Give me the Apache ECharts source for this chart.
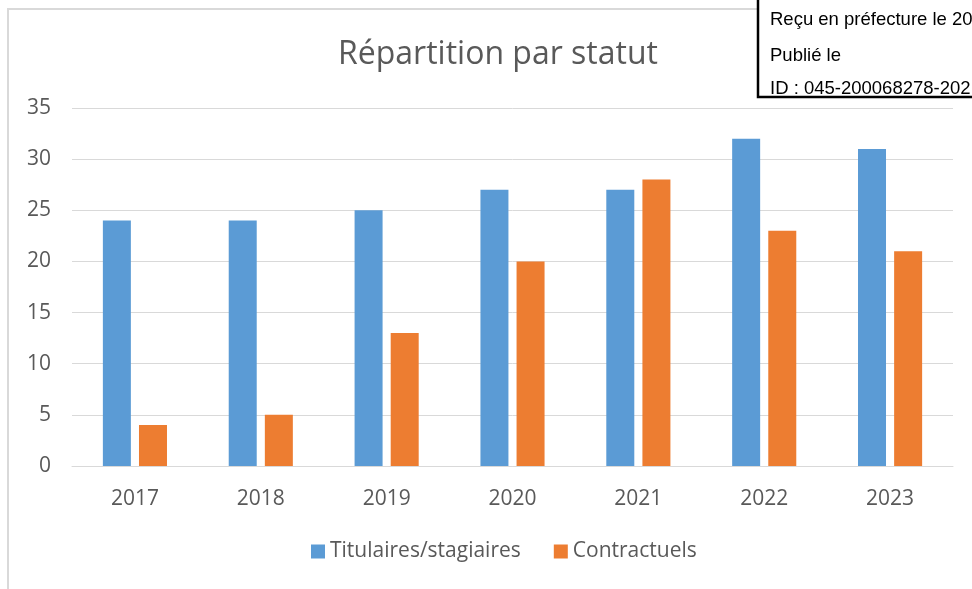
<!DOCTYPE html>
<html>
<head>
<meta charset="utf-8">
<script src="https://cdn.jsdelivr.net/npm/echarts@6/dist/echarts.min.js"></script>
<style>
  html, body { margin: 0; padding: 0; background: #fff; }
  #chart { width: 972px; height: 589px; }
</style>
</head>
<body>
<div id="chart"></div>
<script>
// données
const years = ["2017", "2018", "2019", "2020", "2021", "2022", "2023"];
const titulaires = [24, 24, 25, 27, 27, 32, 31];
const contractuels = [4, 5, 13, 20, 28, 23, 21];
const stampLines = ["Reçu en préfecture le 20", "Publié le", "ID : 045-200068278-202"];
const stampY = [20, 56, 89];

const chart = echarts.init(document.getElementById("chart"));
const font = "'Open Sans', sans-serif";

const option = {
  backgroundColor: "#fff",
  animation: false,
  title: {
    text: "Répartition par statut",
    left: 493,
    textAlign: "center",
    top: 34,
    textStyle: { color: "#595959", fontSize: 32, fontWeight: "normal", fontFamily: font }
  },
  legend: {
    bottom: 22,
    left: 306,
    itemWidth: 14,
    itemHeight: 14,
    itemGap: 33,
    icon: "rect",
    textStyle: { color: "#595959", fontSize: 21, fontFamily: font }
  },
  grid: { left: 72, right: 19, top: 108, bottom: 123, containLabel: false },
  xAxis: {
    type: "category",
    data: years,
    axisLine: { show: true, lineStyle: { color: "#d9d9d9", width: 1 } },
    axisTick: { show: false },
    axisLabel: { color: "#595959", fontSize: 21, fontFamily: font, margin: 23 }
  },
  yAxis: {
    type: "value",
    min: 0,
    max: 35,
    interval: 5,
    axisLine: { show: false },
    axisTick: { show: false },
    splitLine: { lineStyle: { color: "#d9d9d9", width: 1 } },
    axisLabel: { color: "#595959", fontSize: 21, fontFamily: font, margin: 21 }
  },
  series: [
    {
      name: "Titulaires/stagiaires",
      type: "bar",
      data: titulaires,
      barWidth: 28,
      barGap: "29%",
      itemStyle: { color: "#5b9bd5" }
    },
    {
      name: "Contractuels",
      type: "bar",
      data: contractuels,
      barWidth: 28,
      itemStyle: { color: "#ed7d31" }
    }
  ],
  graphic: [
    {
      type: "rect",
      z: -1,
      shape: { x: 8, y: 9, width: 1000, height: 700 },
      style: { fill: null, stroke: "#d9d9d9", lineWidth: 2 }
    },
    {
      type: "rect",
      z: 100,
      shape: { x: 758, y: -5, width: 230, height: 102 },
      style: { fill: "#fff", stroke: "#000", lineWidth: 2.5 }
    },
    {
      type: "group",
      z: 101,
      children: stampLines.map((t, i) => ({
        type: "text",
        z: 101,
        x: 770,
        y: stampY[i],
        style: {
          text: t, fill: "#000", fontSize: 18.5, verticalAlign: "middle",
          fontFamily: "'Liberation Sans', Arial, sans-serif"
        }
      }))
    }
  ]
};

chart.setOption(option);
</script>
</body>
</html>
